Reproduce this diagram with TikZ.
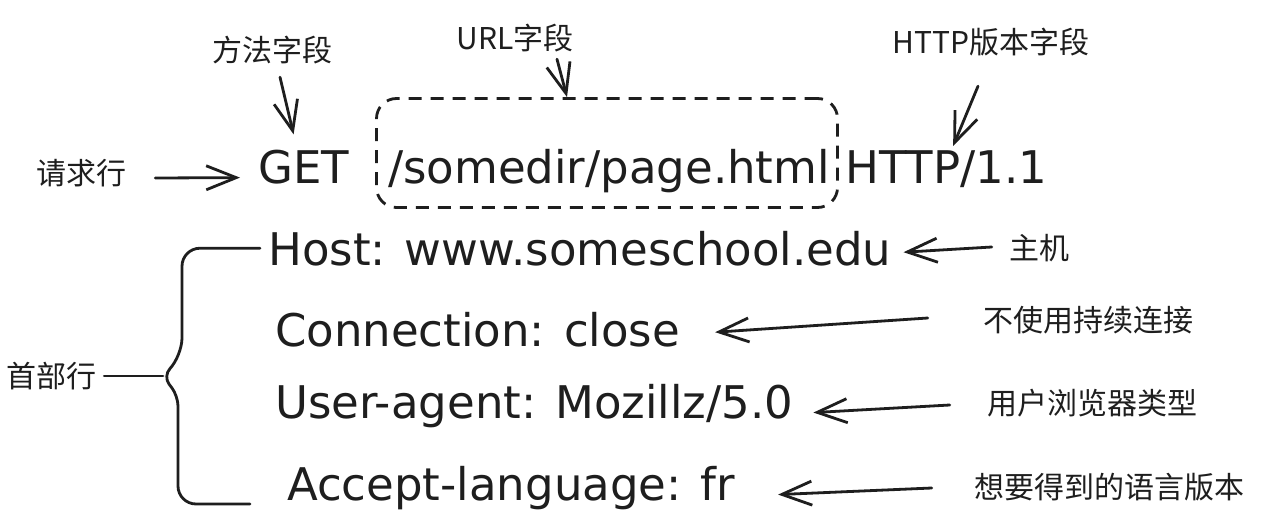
\documentclass[tikz,border=0pt]{standalone}
\usepackage{fontspec}
\setmainfont{DejaVu Sans}
\newfontfamily\cjkfont{Noto Sans CJK SC}
\usepackage{tikz}
\usetikzlibrary{arrows.meta,calc}
\definecolor{ink}{HTML}{1E1E1E}

\begin{document}
\begin{tikzpicture}[x=1pt,y=-1pt,
  code/.style={anchor=base west, inner sep=0pt, text=ink, font=\fontsize{45}{50}\selectfont},
  note/.style={inner sep=0pt, text=ink, font=\cjkfont\fontsize{30}{34}\selectfont},
  line/.style={draw=ink, line width=2.8pt, line cap=round, line join=round},
  arr/.style={line, -{Straight Barb[length=30pt,width=24pt]}},
  urlbox/.style={draw=ink, line width=2.8pt, dash pattern=on 13pt off 9pt, rounded corners=20pt,
                 minimum width=461pt, minimum height=109pt}]
  % HTTP request message, labelled
  \useasboundingbox (0,0) rectangle (1263,527);
  \fill[white] (0,0) rectangle (1263,527);

  \node[code] (get) at (258,183) {GET};
  \node[code] (url) at (388,183) {/somedir/page.html};
  \node[code] (ver) at (845,183) {HTTP/1.1};
  \node[urlbox] (box) at (607,153) {};

  \node[code] (host) at (268,265) {Host: www.someschool.edu};
  \node[code] (conn) at (275,346) {Connection: close};
  \node[code] (agent) at (275,418) {User-agent: Mozillz/5.0};
  \node[code] (accept) at (287,500) {Accept-language: fr};

  \node[note] (req) at (81,173) {请求行};
  \node[note] (mf) at (272,50) {方法字段};
  \node[note] (urlf) at (515,38) {URL字段};
  \node[note] (verf) at (991,42) {HTTP版本字段};
  \node[note] (zhuji) at (1039,248) {主机};
  \node[note] (nc) at (1088,320) {不使用持续连接};
  \node[note] (ua) at (1092,403) {用户浏览器类型};
  \node[note] (lang) at (1109,487) {想要得到的语言版本};
  \node[note] (hdr) at (51,376) {首部行};

  \draw[arr] ([xshift=29pt,yshift=-5pt]req.east) -- ([xshift=-18pt,yshift=-11pt]get.west);
  \draw[arr] ([xshift=8pt,yshift=-13pt]mf.south) -- ([xshift=-10pt,yshift=15pt]get.north);
  \draw[arr] ([xshift=42pt,yshift=-7pt]urlf.south) -- ([xshift=-40pt]box.north);
  \draw[arr] ([xshift=-13pt,yshift=-30pt]verf.south) -- ([xshift=7pt,yshift=4pt]ver.north);

  \draw[arr] ([xshift=-17pt,yshift=1pt]zhuji.west) -- ([xshift=12pt,yshift=-4pt]host.east);
  \draw[arr] ([xshift=-55pt,yshift=2pt]nc.west) -- ([xshift=35pt,yshift=-3pt]conn.east);
  \draw[arr] ([xshift=-37pt,yshift=-2pt]ua.west) -- ([xshift=20pt,yshift=-7pt]agent.east);
  \draw[arr] ([xshift=-42pt,yshift=-1pt]lang.west) -- ([xshift=43pt,yshift=-7pt]accept.east);

  \coordinate (btip) at (163,376);
  \coordinate (bend) at (250,504);
  \draw[line] ([xshift=8pt]hdr.east) -- (btip);
  \draw[line, rounded corners=18pt] ([xshift=-8pt]host.west) -| ($(btip)+(19,-20)$)
    [rounded corners=10pt] -- (btip) -- ($(btip)+(15,20)$)
    [rounded corners=18pt] |- (bend);
\end{tikzpicture}
\end{document}
